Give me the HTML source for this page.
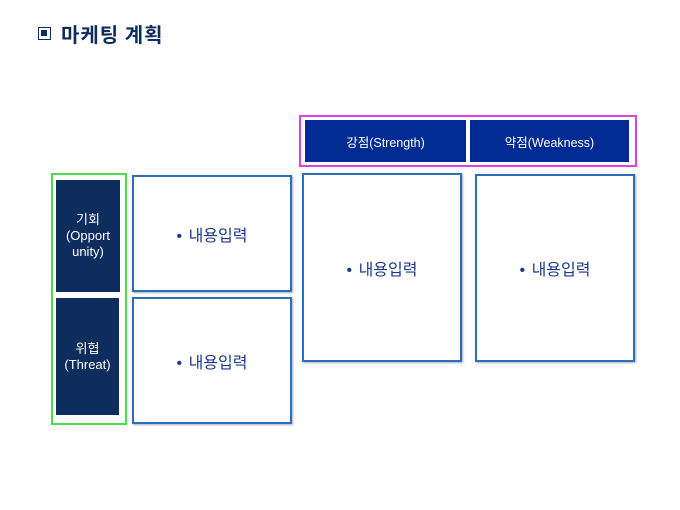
<!DOCTYPE html>
<html><head><meta charset="utf-8"><style>
body{margin:0;width:680px;height:510px;background:#fff;position:relative;overflow:hidden;font-family:"Liberation Sans","Noto Sans CJK KR",sans-serif}
.a{position:absolute;box-sizing:border-box}
.c{display:flex;align-items:center;justify-content:center;text-align:center}
.dk{background:#0c2d5e;color:#fff;font-size:13px;line-height:16px}
.hd{background:#002b92;color:#fff;font-size:12.5px}
.bx{border:2px solid #2a6fb8;background:#fff;color:#1a3a8a;font-size:16px;box-shadow:1px 1px 2px #aac;word-spacing:2px}
</style></head><body>
<div class="a" style="left:38px;top:27px;width:13px;height:13px;border:1.5px solid #0c2d5e;"><div class="a" style="left:2px;top:2px;width:6px;height:6px;background:#0c2d5e"></div></div>
<div class="a" style="left:61px;top:21px;font-size:20px;font-weight:bold;color:#0c2d5e;font-family:'Noto Sans CJK KR',sans-serif;line-height:26px;letter-spacing:1px">마케팅 계획</div>

<div class="a" style="left:299px;top:115px;width:338px;height:52px;border:2px solid #e040e0"></div>
<div class="a c hd" style="left:305px;top:120px;width:161px;height:42px">강점(Strength)</div>
<div class="a c hd" style="left:470px;top:120px;width:159px;height:42px">약점(Weakness)</div>
<div class="a c bx" style="left:302px;top:173px;width:160px;height:189px">•&nbsp;내용입력</div>
<div class="a c bx" style="left:475px;top:174px;width:160px;height:188px">•&nbsp;내용입력</div>

<div class="a" style="left:51px;top:173px;width:76px;height:252px;border:2px solid #4cdc4c"></div>
<div class="a c dk" style="left:56px;top:180px;width:64px;height:112px">기회<br>(Opport<br>unity)</div>
<div class="a c dk" style="left:56px;top:298px;width:63px;height:117px">위협<br>(Threat)</div>
<div class="a c bx" style="left:132px;top:175px;width:160px;height:117px">•&nbsp;내용입력</div>
<div class="a c bx" style="left:132px;top:297px;width:160px;height:127px">•&nbsp;내용입력</div>
</body></html>
